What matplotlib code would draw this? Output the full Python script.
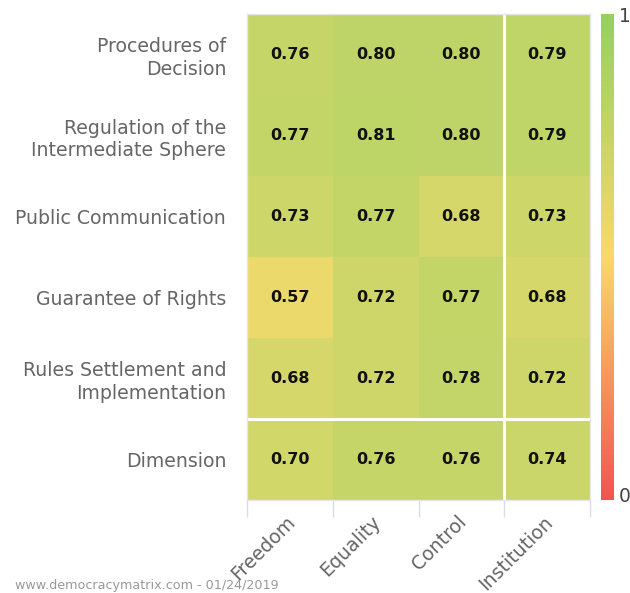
import numpy as np
import matplotlib
matplotlib.use("Agg")
import matplotlib.pyplot as plt
from matplotlib.colors import LinearSegmentedColormap

rows = ["Procedures of\nDecision", "Regulation of the\nIntermediate Sphere",
        "Public Communication", "Guarantee of Rights",
        "Rules Settlement and\nImplementation", "Dimension"]
cols = ["Freedom", "Equality", "Control", "Institution"]
values = np.array([
    [0.76, 0.80, 0.80, 0.79],
    [0.77, 0.81, 0.80, 0.79],
    [0.73, 0.77, 0.68, 0.73],
    [0.57, 0.72, 0.77, 0.68],
    [0.68, 0.72, 0.78, 0.72],
    [0.70, 0.76, 0.76, 0.74],
])

cmap = LinearSegmentedColormap.from_list(
    "rg", [(0.0, "#f2413e"), (0.5, "#f9d658"), (1.0, "#8acb4f")])

W, H, DPI = 630, 593, 100
fig = plt.figure(figsize=(W / DPI, H / DPI), dpi=DPI)

x0, x1, y0, y1 = 247, 590, 14, 500
ax = fig.add_axes([x0 / W, 1 - y1 / H, (x1 - x0) / W, (y1 - y0) / H])
nr, nc = values.shape
ax.pcolormesh(np.arange(nc + 1), np.arange(nr + 1), values, cmap=cmap,
              vmin=0, vmax=1, alpha=0.88, edgecolors="none")
ax.set_xlim(0, nc)
ax.set_ylim(nr, 0)

for i in range(nr):
    for j in range(nc):
        ax.text(j + 0.5, i + 0.5, f"{values[i, j]:.2f}", ha="center", va="center",
                fontsize=11.5, fontweight="bold", color="#111111", family="DejaVu Sans")

# white separators
ax.axvline(3, color="white", lw=2.2)
ax.axhline(5, color="white", lw=2.2)

for s in ax.spines.values():
    s.set_color("#e6e6e6")
    s.set_linewidth(1)

ax.set_yticks(np.arange(nr) + 0.5)
ax.set_yticklabels(rows, fontsize=13.6, color="#666666", family="DejaVu Sans",
                   linespacing=1.25)
ax.tick_params(axis="y", length=0, pad=15)

ax.set_xticks(np.arange(nc + 1), minor=False)
ax.set_xticklabels([])
ax.tick_params(axis="x", length=12, color="#d8dce6", width=1, direction="out")
for j, c in enumerate(cols):
    ax.annotate(c, xy=(j + 0.5, nr), xycoords="data", xytext=(-3, -9),
                textcoords="offset points", rotation=45, ha="right", va="top",
                rotation_mode="anchor", fontsize=13.6, color="#666666",
                family="DejaVu Sans", annotation_clip=False)

# colorbar
cax = fig.add_axes([601 / W, 1 - y1 / H, 12 / W, (y1 - y0) / H])
grad = np.linspace(0, 1, 256).reshape(-1, 1)
cax.imshow(grad, aspect="auto", cmap=cmap, origin="lower", extent=(0, 1, 0, 1),
           alpha=0.9)
cax.set_axis_off()
fig.text(619 / W, 1 - 17 / H, "1", fontsize=13.5, color="#444444", ha="left", va="center")
fig.text(619 / W, 1 - 497 / H, "0", fontsize=13.5, color="#444444", ha="left", va="center")

fig.text(15 / W, 1 - 585 / H, "www.democracymatrix.com - 01/24/2019", fontsize=9.2,
         color="#999999", ha="left", va="center")

fig.savefig("out.png", dpi=DPI)
